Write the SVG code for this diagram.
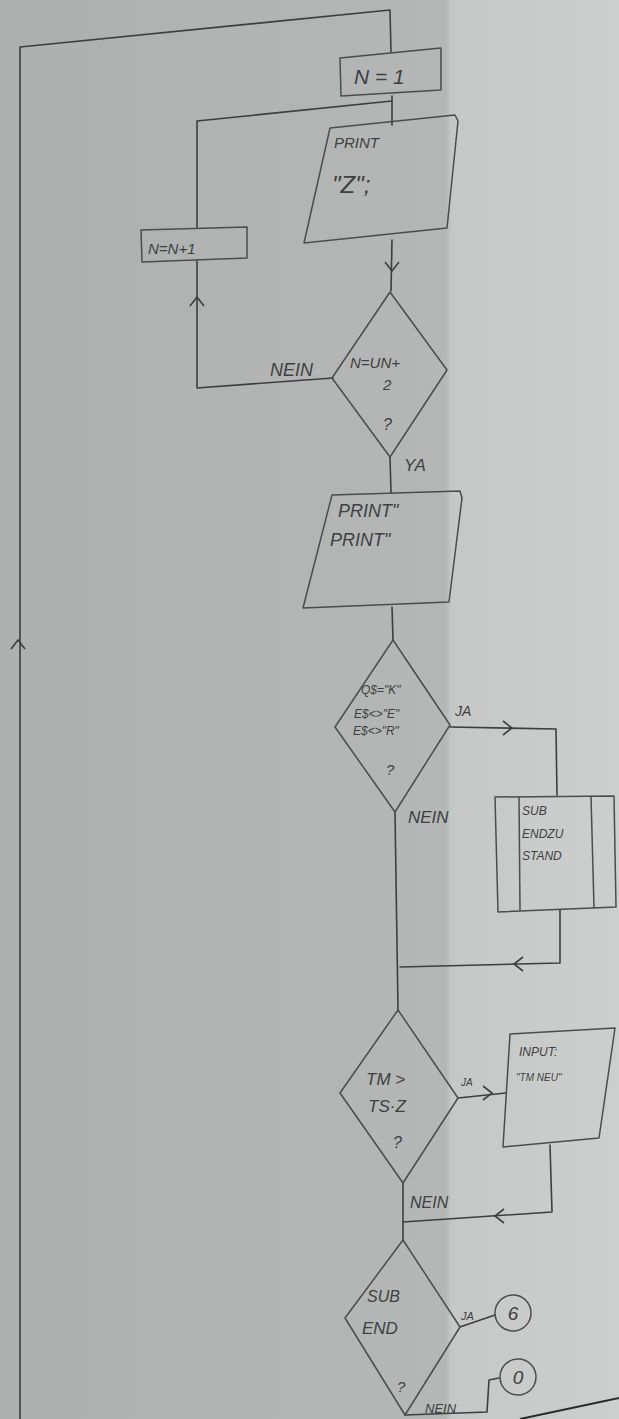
<svg xmlns="http://www.w3.org/2000/svg" width="619" height="1419" viewBox="0 0 619 1419">
<defs>
<linearGradient id="paper" x1="0" y1="0" x2="1" y2="0">
<stop offset="0" stop-color="#aeb0af"/>
<stop offset="0.72" stop-color="#b5b7b6"/>
<stop offset="0.73" stop-color="#c6c8c7"/>
<stop offset="1" stop-color="#cdcfce"/>
</linearGradient>
<path id="chev" d="M-9,-7 L0,0 L-9,7" fill="none"/>
</defs>
<style>
.ln{fill:none;stroke:#3c3e3f;stroke-width:1.6;stroke-linejoin:round;stroke-linecap:round}
.sh{fill:none;stroke:#4a4c4d;stroke-width:1.5;stroke-linejoin:round}
.t{font-family:"Liberation Sans",Arial,sans-serif;font-style:italic;fill:#3e4041}
.ch{stroke:#3c3e3f;stroke-width:1.6;fill:none}
</style>
<rect width="619" height="1419" fill="url(#paper)"/>
<path d="M520,1419 L619,1398" stroke="#2a2c2c" stroke-width="2" fill="none"/>

<g id="connectors">
<path class="ln" d="M20,1419 L20,47 L390,10 L391,52"/>
<path class="ln" d="M392,96 L392,125"/>
<path class="ln" d="M197,228 L197,121 L392,101"/>
<path class="ln" d="M197,261 L197,388 L333,378"/>
<path class="ln" d="M392,240 L391,291"/>
<path class="ln" d="M390,457 L391,493"/>
<path class="ln" d="M392,607 L393,640"/>
<path class="ln" d="M450,727 L556,729 L557,795"/>
<path class="ln" d="M395,812 L398,1010"/>
<path class="ln" d="M560,910 L560,963 L400,967"/>
<path class="ln" d="M458,1098 L506,1093"/>
<path class="ln" d="M550,1145 L552,1212 L403,1222"/>
<path class="ln" d="M403,1183 L403,1240"/>
<path class="ln" d="M460,1327 L495,1315"/>
<path class="ln" d="M405,1415 L487,1412 L489,1380 L499,1378"/>
<use href="#chev" class="ch" transform="translate(18,640) rotate(-90)"/>
<use href="#chev" class="ch" transform="translate(197,297) rotate(-90)"/>
<use href="#chev" class="ch" transform="translate(392,271) rotate(90)"/>
<use href="#chev" class="ch" transform="translate(512,728)"/>
<use href="#chev" class="ch" transform="translate(514,964) rotate(180)"/>
<use href="#chev" class="ch" transform="translate(492,1093)"/>
<use href="#chev" class="ch" transform="translate(495,1216) rotate(180)"/>
</g>

<g id="n_start">
<path class="sh" d="M340,58 L441,48 L441,90 L341,96 Z"/>
<text class="t" x="354" y="84" font-size="21">N = 1</text>
</g>

<g id="n_printz">
<path class="sh" d="M330,128 L455,115 L458,121 L447,228 L304,243 Z"/>
<text class="t" x="334" y="148" font-size="15">PRINT</text>
<text class="t" x="332" y="193" font-size="24">"Z";</text>
</g>

<g id="n_inc">
<path class="sh" d="M141,230 L247,227 L247,258 L142,262 Z"/>
<text class="t" x="148" y="254" font-size="15">N=N+1</text>
</g>

<g id="n_dec1">
<path class="sh" d="M390,292 L447,370 L390,457 L332,378 Z"/>
<text class="t" x="350" y="368" font-size="15">N=UN+</text>
<text class="t" x="383" y="390" font-size="15">2</text>
<text class="t" x="383" y="430" font-size="16">?</text>
<text class="t" x="270" y="376" font-size="18">NEIN</text>
<text class="t" x="404" y="471" font-size="17">YA</text>
</g>

<g id="n_print2">
<path class="sh" d="M332,495 L460,491 L462,498 L449,602 L303,608 Z"/>
<text class="t" x="338" y="517" font-size="18">PRINT"</text>
<text class="t" x="330" y="546" font-size="18">PRINT"</text>
</g>

<g id="n_dec2">
<path class="sh" d="M393,640 L450,725 L395,812 L335,727 Z"/>
<text class="t" x="361" y="694" font-size="12">Q$="K"</text>
<text class="t" x="354" y="718" font-size="12">E$&lt;&gt;"E"</text>
<text class="t" x="353" y="735" font-size="12">E$&lt;&gt;"R"</text>
<text class="t" x="386" y="775" font-size="15">?</text>
<text class="t" x="455" y="716" font-size="14">JA</text>
<text class="t" x="408" y="823" font-size="17">NEIN</text>
</g>

<g id="n_sub">
<path class="sh" d="M495,797 L614,796 L616,907 L498,912 Z"/>
<path class="sh" d="M519,797 L520,910 M591,796 L594,908"/>
<text class="t" x="522" y="815" font-size="12">SUB</text>
<text class="t" x="522" y="838" font-size="12">ENDZU</text>
<text class="t" x="522" y="860" font-size="12">STAND</text>
</g>

<g id="n_dec3">
<path class="sh" d="M398,1010 L458,1098 L403,1183 L340,1093 Z"/>
<text class="t" x="366" y="1085" font-size="17">TM &gt;</text>
<text class="t" x="368" y="1112" font-size="17">TS·Z</text>
<text class="t" x="393" y="1148" font-size="16">?</text>
<text class="t" x="461" y="1086" font-size="10">JA</text>
<text class="t" x="410" y="1208" font-size="16">NEIN</text>
</g>

<g id="n_input">
<path class="sh" d="M510,1034 L615,1028 L599,1138 L503,1147 Z"/>
<text class="t" x="519" y="1056" font-size="12">INPUT:</text>
<text class="t" x="516" y="1081" font-size="10">"TM NEU"</text>
</g>

<g id="n_dec4">
<path class="sh" d="M403,1240 L460,1327 L405,1415 L345,1318 Z"/>
<text class="t" x="367" y="1302" font-size="16">SUB</text>
<text class="t" x="362" y="1334" font-size="17">END</text>
<text class="t" x="397" y="1392" font-size="15">?</text>
<text class="t" x="461" y="1320" font-size="11">JA</text>
<text class="t" x="425" y="1413" font-size="13">NEIN</text>
</g>

<g id="n_c6">
<circle class="sh" cx="513" cy="1313" r="18"/>
<text class="t" x="513" y="1320" font-size="19" text-anchor="middle">6</text>
</g>

<g id="n_c0">
<circle class="sh" cx="518" cy="1377" r="18"/>
<text class="t" x="518" y="1384" font-size="19" text-anchor="middle">0</text>
</g>
</svg>
